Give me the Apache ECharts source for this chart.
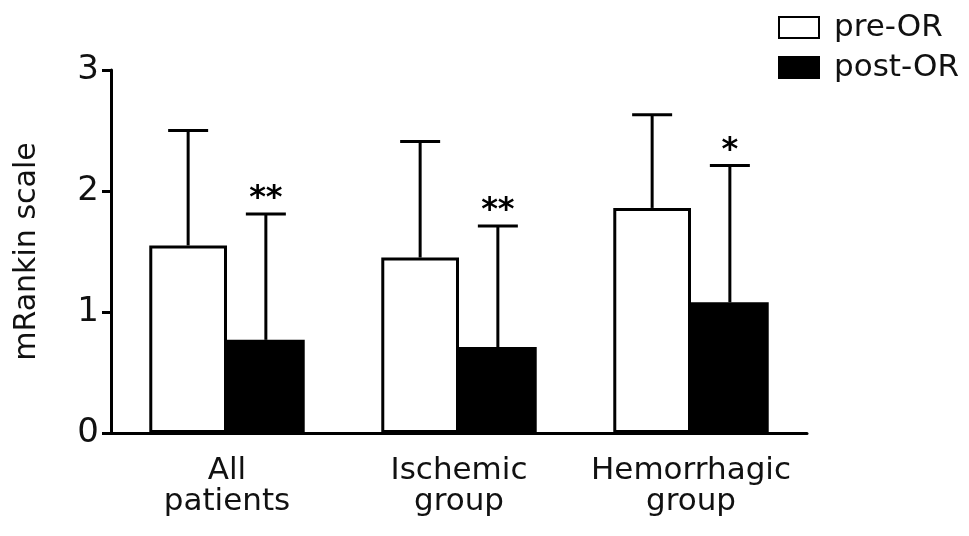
<!DOCTYPE html>
<html>
<head>
<meta charset="utf-8">
<script src="https://cdn.jsdelivr.net/npm/echarts@6/dist/echarts.min.js"></script>
<style>html,body{margin:0;padding:0;background:#fff}#c{width:969px;height:536px}</style>
</head>
<body>
<div id="c"></div>
<script>
const categories = ['All\npatients', 'Ischemic\ngroup', 'Hemorrhagic\ngroup'];
const preMean = [1.55, 1.45, 1.86];
const preUpper = [2.50, 2.41, 2.63];
const postMean = [0.77, 0.71, 1.08];
const postUpper = [1.81, 1.71, 2.21];
const significance = ['**', '**', '*'];
const yTicks = [0, 1, 2, 3];

const FONT = '"DejaVu Sans", sans-serif';
const GAP = 0.33;

function errorSeries(name, means, uppers, side, marks) {
  return {
    type: 'custom',
    name: name + '-err',
    z: 5,
    silent: true,
    data: means.map((m, i) => [i, m, uppers[i], marks ? marks[i] : '']),
    renderItem: function (params, api) {
      const i = api.value(0);
      const band = api.size([1, 0])[0];
      const bw = band * (1 - GAP) / 2;
      const c = api.coord([i, api.value(1)]);
      const u = api.coord([i, api.value(2)]);
      const x = c[0] + side * bw / 2;
      const cap = 20;
      const children = [
        { type: 'line', shape: { x1: x, y1: c[1], x2: x, y2: u[1] }, style: { stroke: '#000', lineWidth: 3 } },
        { type: 'line', shape: { x1: x - cap, y1: u[1], x2: x + cap, y2: u[1] }, style: { stroke: '#000', lineWidth: 3 } }
      ];
      const mark = api.value(3);
      if (mark) {
        children.push({ type: 'text', x: x, y: u[1] - 15, style: { text: mark, fill: '#000', font: 'bold 32px ' + FONT, align: 'center', verticalAlign: 'middle' } });
      }
      return { type: 'group', children: children };
    }
  };
}

const chart = echarts.init(document.getElementById('c'), null, { renderer: 'canvas' });
chart.setOption({
  animation: false,
  backgroundColor: '#fff',
  grid: { left: 111, right: 162, top: 70, bottom: 103, containLabel: false },
  legend: {
    orient: 'vertical',
    left: 773,
    top: 7,
    icon: 'rect',
    itemWidth: 40,
    itemHeight: 21,
    itemGap: 9,
    data: ['pre-OR', 'post-OR'],
    textStyle: { fontSize: 31, fontFamily: FONT, color: '#111', padding: [0, 0, 0, 10] }
  },
  xAxis: {
    type: 'category',
    data: categories,
    axisLine: { lineStyle: { color: '#000', width: 3 } },
    axisTick: { alignWithLabel: true, length: 8, lineStyle: { color: '#000', width: 3 } },
    axisLabel: { fontSize: 31, fontFamily: FONT, color: '#111', margin: 22, lineHeight: 31, interval: 0 },
    splitLine: { show: false }
  },
  yAxis: {
    type: 'value',
    min: 0, max: 3, interval: 1,
    name: 'mRankin scale',
    nameLocation: 'middle',
    nameGap: 69,
    nameRotate: 90,
    nameTextStyle: { fontSize: 30, fontFamily: FONT, color: '#111' },
    axisLine: { show: true, lineStyle: { color: '#000', width: 3 } },
    axisTick: { show: true, length: 9, lineStyle: { color: '#000', width: 3 } },
    axisLabel: { fontSize: 34, fontFamily: FONT, color: '#111', margin: 12, formatter: v => yTicks.includes(v) ? String(v) : '' },
    splitLine: { show: false }
  },
  series: [
    { name: 'pre-OR', type: 'bar', data: preMean, barGap: '0%', barCategoryGap: (GAP * 100) + '%',
      itemStyle: { color: '#fff', borderColor: '#000', borderWidth: 3 } },
    { name: 'post-OR', type: 'bar', data: postMean, barGap: '0%', barCategoryGap: (GAP * 100) + '%',
      itemStyle: { color: '#000', borderColor: '#000', borderWidth: 3 } },
    errorSeries('pre-OR', preMean, preUpper, -1, null),
    errorSeries('post-OR', postMean, postUpper, 1, significance)
  ]
});
</script>
</body>
</html>
